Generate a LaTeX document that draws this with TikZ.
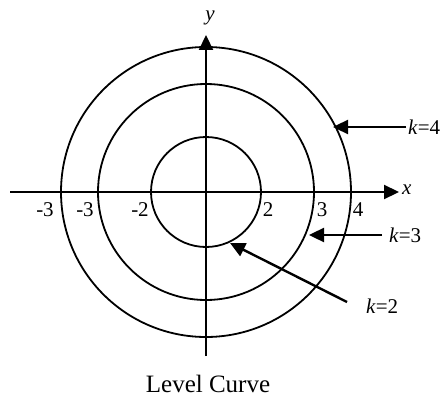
\documentclass[tikz,border=0pt]{standalone}
\usepackage{fontspec}
\setmainfont{Liberation Serif}
\usetikzlibrary{arrows.meta}
\begin{document}
\begin{tikzpicture}[x=1pt,y=-1pt,
  axis/.style={line width=2.2pt,-{Triangle[length=15pt,width=14pt]}},
  curve/.style={line width=1.8pt},
  pointer/.style={line width=2.4pt,-{Triangle[length=15pt,width=14pt]}},
  lbl/.style={inner sep=0pt,font=\fontsize{21}{23}\selectfont},
  ttl/.style={inner sep=0pt,font=\fontsize{25}{28}\selectfont}]
\useasboundingbox (0,0) rectangle (446,398);
\coordinate (O) at (206,192);
\coordinate (xl) at (10,192);
\coordinate (xr) at (399,192);
\coordinate (yb) at (206,356);
\coordinate (yt) at (206,35);
\draw[curve] (O) circle[radius=55];
\draw[curve] (O) circle[radius=108];
\draw[curve] (O) circle[radius=145];
\draw[axis] (xl) -- (xr);
\draw[axis] (yb) -- (yt);
\node[lbl,anchor=west] (xlab) at (402,190) {\textit{x}};
\node[lbl] (ylab) at (210,18) {\textit{y}};
\node[lbl] (n1) at (45,210) {-3};
\node[lbl] (n2) at (85,210) {-3};
\node[lbl] (n3) at (140,210) {-2};
\node[lbl] (n4) at (268,210) {2};
\node[lbl] (n5) at (322,210) {3};
\node[lbl] (n6) at (358,210) {4};
\node[lbl,anchor=west] (k4) at (408,127) {\textit{k}=4};
\node[lbl,anchor=west] (k3) at (389,235) {\textit{k}=3};
\node[lbl,anchor=west] (k2) at (366,306) {\textit{k}=2};
\coordinate (a4) at (406,127);
\coordinate (t4) at (333,127);
\coordinate (a3) at (382,235);
\coordinate (t3) at (309,235);
\coordinate (a2) at (347,302);
\coordinate (t2) at (230,243);
\draw[pointer] (a4) -- (t4);
\draw[pointer] (a3) -- (t3);
\draw[pointer] (a2) -- (t2);
\node[ttl] (title) at (208,384) {Level Curve};
\end{tikzpicture}
\end{document}
